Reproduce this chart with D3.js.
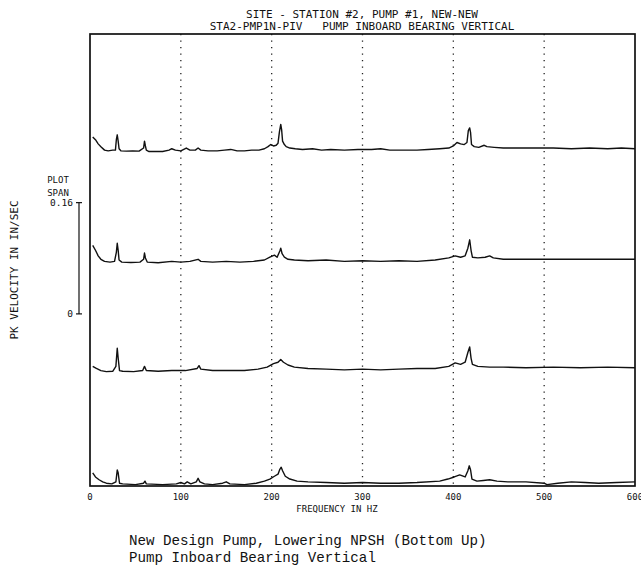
<!DOCTYPE html>
<html>
<head>
<meta charset="utf-8">
<script src="https://cdn.jsdelivr.net/npm/d3@7"></script>
<style>
  body { margin: 0; background: #fff; }
  svg { display: block; }
  .plot { font-family: "DejaVu Sans Mono", monospace; fill: #111; white-space: pre; }
  .caption { font-family: "Liberation Mono", "Courier New", monospace; fill: #111; }
</style>
</head>
<body>
<svg width="641" height="565"></svg>
<script>
// title lines
const titleLines = ["SITE - STATION #2, PUMP #1, NEW-NEW", "STA2-PMP1N-PIV   PUMP INBOARD BEARING VERTICAL"];
const captionLines = ["New Design Pump, Lowering NPSH (Bottom Up)", "Pump Inboard Bearing Vertical"];

// x ticks (Hz)
const xTicks = [0, 100, 200, 300, 400, 500, 600];
const gridLines = [100, 200, 300, 400, 500];

// plot span bar (in/sec)
const spanValue = 0.16;
const spanLabels = ["0.16", "0"];

// vertical offset of each spectrum, bottom up (in/sec)
const traceOffsets = [0, 0.163, 0.32, 0.48];

// spectra: [frequency Hz, pk velocity in/sec], bottom up
const trace1 = [
  [3, 0.019], [6, 0.013], [10, 0.009], [14, 0.006], [18, 0.004], [24, 0.003], [28.5, 0.006], [30, 0.023],
  [31, 0.019], [32.5, 0.004], [36, 0.003], [50, 0.002], [59, 0.004], [60.5, 0.007], [62, 0.003], [80, 0.002],
  [95, 0.003], [100, 0.005], [104, 0.003], [107, 0.006], [111, 0.003], [117, 0.006], [119, 0.011], [121, 0.006],
  [126, 0.003], [135, 0.002], [146, 0.004], [150, 0.006], [154, 0.003], [170, 0.002], [183, 0.004], [192, 0.007],
  [198, 0.010], [203, 0.014], [207, 0.017], [209, 0.024], [210.5, 0.027], [212, 0.022], [215, 0.014], [220, 0.010],
  [228, 0.007], [240, 0.006], [260, 0.005], [280, 0.004], [300, 0.005], [320, 0.004], [340, 0.004], [360, 0.005],
  [385, 0.007], [394, 0.010], [401, 0.013], [407, 0.016], [413, 0.013], [416, 0.022], [417.5, 0.029], [419, 0.023],
  [420.5, 0.010], [426, 0.007], [433, 0.008], [440, 0.009], [448, 0.007], [460, 0.006], [480, 0.006], [500, 0.004],
  [503, 0.002], [515, 0.004], [530, 0.006], [545, 0.005], [560, 0.004], [580, 0.005], [600, 0.006]
];
const trace2 = [
  [3, 0.009], [7, 0.006], [12, 0.003], [18, 0.0015], [25, 0.002], [28.5, 0.009], [30, 0.035], [31, 0.021],
  [32.5, 0.003], [36, 0.002], [48, 0.0015], [58, 0.003], [60, 0.009], [62, 0.003], [75, 0.002], [90, 0.003],
  [105, 0.003], [118, 0.006], [120, 0.010], [122, 0.005], [135, 0.003], [150, 0.003], [170, 0.003], [185, 0.005],
  [195, 0.008], [202, 0.013], [207, 0.015], [210, 0.019], [213, 0.015], [218, 0.011], [225, 0.008], [240, 0.006],
  [260, 0.005], [280, 0.004], [300, 0.005], [320, 0.004], [340, 0.005], [360, 0.006], [380, 0.006], [395, 0.009],
  [402, 0.014], [408, 0.012], [413, 0.015], [416, 0.029], [418, 0.037], [419.5, 0.021], [421, 0.012], [427, 0.009],
  [440, 0.008], [455, 0.008], [480, 0.007], [510, 0.008], [540, 0.007], [570, 0.008], [600, 0.007]
];
const trace3 = [
  [3, 0.026], [6, 0.019], [9, 0.011], [12, 0.006], [16, 0.003], [22, 0.002], [27, 0.003], [29, 0.016],
  [30, 0.029], [31, 0.019], [32, 0.005], [35, 0.002], [45, 0.0015], [55, 0.002], [59, 0.006], [60, 0.015],
  [61, 0.008], [63, 0.002], [75, 0.001], [90, 0.003], [100, 0.002], [110, 0.003], [119, 0.006], [122, 0.003],
  [135, 0.002], [150, 0.003], [165, 0.002], [180, 0.003], [192, 0.005], [198, 0.009], [203, 0.012], [206, 0.009],
  [209, 0.018], [210, 0.022], [211.5, 0.014], [214, 0.009], [218, 0.006], [225, 0.005], [240, 0.004], [260, 0.005],
  [280, 0.003], [300, 0.004], [320, 0.003], [340, 0.004], [360, 0.003], [380, 0.005], [395, 0.008], [402, 0.011],
  [408, 0.009], [413, 0.011], [416, 0.022], [418, 0.034], [419.5, 0.019], [421, 0.009], [427, 0.008], [435, 0.009],
  [440, 0.011], [444, 0.008], [455, 0.006], [475, 0.006], [500, 0.006], [520, 0.006], [545, 0.006], [570, 0.006],
  [600, 0.006]
];
const trace4 = [
  [3, 0.022], [6, 0.018], [9, 0.012], [12, 0.008], [16, 0.003], [20, 0.002], [25, 0.003], [28, 0.003],
  [29, 0.018], [30, 0.025], [31, 0.016], [32, 0.005], [34, 0.002], [40, 0.0015], [47, 0.002], [54, 0.0015],
  [59, 0.006], [60, 0.016], [61, 0.009], [62, 0.003], [65, 0.001], [72, 0.001], [80, 0.001], [87, 0.003],
  [90, 0.005], [94, 0.003], [100, 0.002], [106, 0.006], [110, 0.003], [116, 0.003], [119, 0.006], [122, 0.003],
  [130, 0.002], [140, 0.002], [148, 0.003], [155, 0.004], [162, 0.002], [170, 0.002], [178, 0.003], [186, 0.003],
  [192, 0.005], [196, 0.008], [199, 0.011], [202, 0.009], [205, 0.010], [207, 0.013], [208.5, 0.029], [210, 0.040],
  [211, 0.032], [212, 0.016], [214, 0.011], [216, 0.008], [220, 0.006], [226, 0.005], [234, 0.004], [245, 0.005],
  [255, 0.003], [265, 0.004], [280, 0.003], [295, 0.004], [310, 0.004], [320, 0.005], [330, 0.003], [345, 0.003],
  [360, 0.003], [372, 0.004], [385, 0.005], [395, 0.006], [400, 0.009], [404, 0.014], [408, 0.012], [412, 0.011],
  [415, 0.014], [416.5, 0.031], [418, 0.035], [419, 0.028], [420, 0.011], [423, 0.008], [428, 0.007], [434, 0.010],
  [437, 0.008], [445, 0.007], [455, 0.006], [470, 0.006], [490, 0.006], [510, 0.006], [530, 0.005], [550, 0.006],
  [570, 0.005], [585, 0.006], [600, 0.005]
];
const traces = [trace1, trace2, trace3, trace4];

// svg
const svg = d3.select("svg");

// scales
const x = d3.scaleLinear().domain([0, 600]).range([90, 635]);
const y = d3.scaleLinear().domain([0, 0.65]).range([486, 34]);

// dotted grid lines
svg.selectAll(".grid")
  .data(gridLines)
  .enter().append("line")
  .attr("x1", d => x(d)).attr("x2", d => x(d))
  .attr("y1", y(0.65)).attr("y2", y(0))
  .attr("stroke", "#222")
  .attr("stroke-width", 1.3)
  .attr("stroke-dasharray", "1.3,5.2");

// spectra
const line = d3.line()
  .x(d => x(d[0]))
  .y(d => d[1]);

svg.selectAll(".trace")
  .data(traces)
  .enter().append("path")
  .attr("d", (d, i) => line(d.map(p => [p[0], y(p[1] + traceOffsets[i])])))
  .attr("fill", "none")
  .attr("stroke", "#111")
  .attr("stroke-width", 1.4)
  .attr("stroke-linejoin", "round");

// frame
svg.append("rect")
  .attr("x", x(0)).attr("y", y(0.65))
  .attr("width", x(600) - x(0)).attr("height", y(0) - y(0.65))
  .attr("fill", "none")
  .attr("stroke", "#111")
  .attr("stroke-width", 1.7);

// x tick labels
svg.selectAll(".xtick")
  .data(xTicks)
  .enter().append("text")
  .attr("class", "plot")
  .attr("x", d => x(d))
  .attr("y", 500)
  .attr("text-anchor", "middle")
  .attr("font-size", 9)
  .text(d => d);

svg.append("text")
  .attr("class", "plot")
  .attr("x", 337).attr("y", 512)
  .attr("text-anchor", "middle")
  .attr("font-size", 9)
  .text("FREQUENCY IN HZ");

// title
svg.selectAll(".title")
  .data(titleLines)
  .enter().append("text")
  .attr("class", "plot")
  .attr("x", 362)
  .attr("y", (d, i) => 18 + i * 12)
  .attr("text-anchor", "middle")
  .attr("font-size", 11)
  .text(d => d);

// y axis label
svg.append("text")
  .attr("class", "plot")
  .attr("transform", "translate(18,270) rotate(-90)")
  .attr("text-anchor", "middle")
  .attr("font-size", 11)
  .text("PK VELOCITY IN IN/SEC");

// plot span bar
const spanBase = 0.2475;
const barX = 79;
svg.append("line")
  .attr("x1", barX).attr("x2", barX)
  .attr("y1", y(spanBase)).attr("y2", y(spanBase + spanValue))
  .attr("stroke", "#111").attr("stroke-width", 1.2);
svg.selectAll(".spantick")
  .data([spanBase, spanBase + spanValue])
  .enter().append("line")
  .attr("x1", barX - 3).attr("x2", barX + 3)
  .attr("y1", d => y(d)).attr("y2", d => y(d))
  .attr("stroke", "#111").attr("stroke-width", 1.2);

svg.append("text").attr("class", "plot")
  .attr("x", 58).attr("y", 183).attr("text-anchor", "middle").attr("font-size", 9).text("PLOT");
svg.append("text").attr("class", "plot")
  .attr("x", 58).attr("y", 196).attr("text-anchor", "middle").attr("font-size", 9).text("SPAN");
svg.selectAll(".spanlabel")
  .data(spanLabels)
  .enter().append("text")
  .attr("class", "plot")
  .attr("x", 73)
  .attr("y", (d, i) => y(i === 0 ? spanBase + spanValue : spanBase) + 3.5)
  .attr("text-anchor", "end")
  .attr("font-size", 9.5)
  .text(d => d);

// caption
svg.selectAll(".caption")
  .data(captionLines)
  .enter().append("text")
  .attr("class", "caption")
  .attr("x", 129)
  .attr("y", (d, i) => 544.5 + i * 17)
  .attr("font-size", 14.2)
  .text(d => d);
</script>
</body>
</html>
